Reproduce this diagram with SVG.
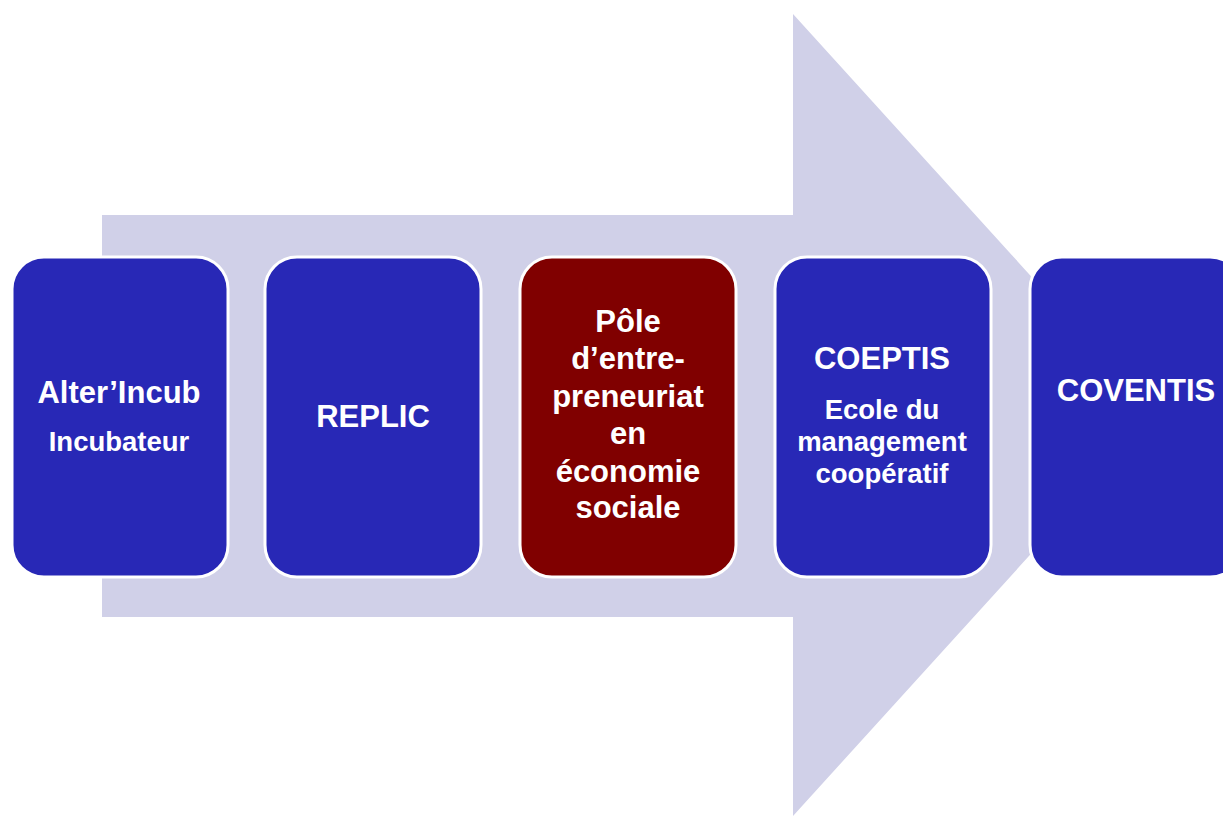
<svg xmlns="http://www.w3.org/2000/svg" width="1223" height="816" viewBox="0 0 1223 816">
<style>
.box{stroke:#ffffff;stroke-width:3}
.blue{fill:#2828B6}
.red{fill:#800000}
text{font-family:"Liberation Sans",Arial,sans-serif;font-weight:bold;fill:#ffffff;text-anchor:middle}
.t{font-size:31px}
.s{font-size:27.5px}
</style>
<rect width="1223" height="816" fill="#ffffff"/>
<g id="connectors">
<polygon points="102,215 793,215 793,14 1157,415 793,816 793,617 102,617" fill="#D0D0E8"/>
</g>
<g id="node1">
<rect class="box blue" x="12" y="257" width="216" height="320" rx="32"/>
<text class="t" x="119" y="403">Alter’Incub</text>
<text class="s" x="119" y="451">Incubateur</text>
</g>
<g id="node2">
<rect class="box blue" x="265" y="257" width="216" height="320" rx="32"/>
<text class="t" x="373" y="427">REPLIC</text>
</g>
<g id="node3">
<rect class="box red" x="520" y="257" width="216" height="320" rx="32"/>
<text class="t" x="628" y="332">Pôle</text>
<text class="t" x="628" y="369">d’entre-</text>
<text class="t" x="628" y="407">preneuriat</text>
<text class="t" x="628" y="444">en</text>
<text class="t" x="628" y="482">économie</text>
<text class="t" x="628" y="518">sociale</text>
</g>
<g id="node4">
<rect class="box blue" x="775" y="257" width="216" height="320" rx="32"/>
<text class="t" x="882" y="369">COEPTIS</text>
<text class="s" x="882" y="419">Ecole du</text>
<text class="s" x="882" y="451">management</text>
<text class="s" x="882" y="483">coopératif</text>
</g>
<g id="node5">
<rect class="box blue" x="1030" y="257" width="212" height="320" rx="32"/>
<text class="t" x="1136" y="401">COVENTIS</text>
</g>
</svg>
